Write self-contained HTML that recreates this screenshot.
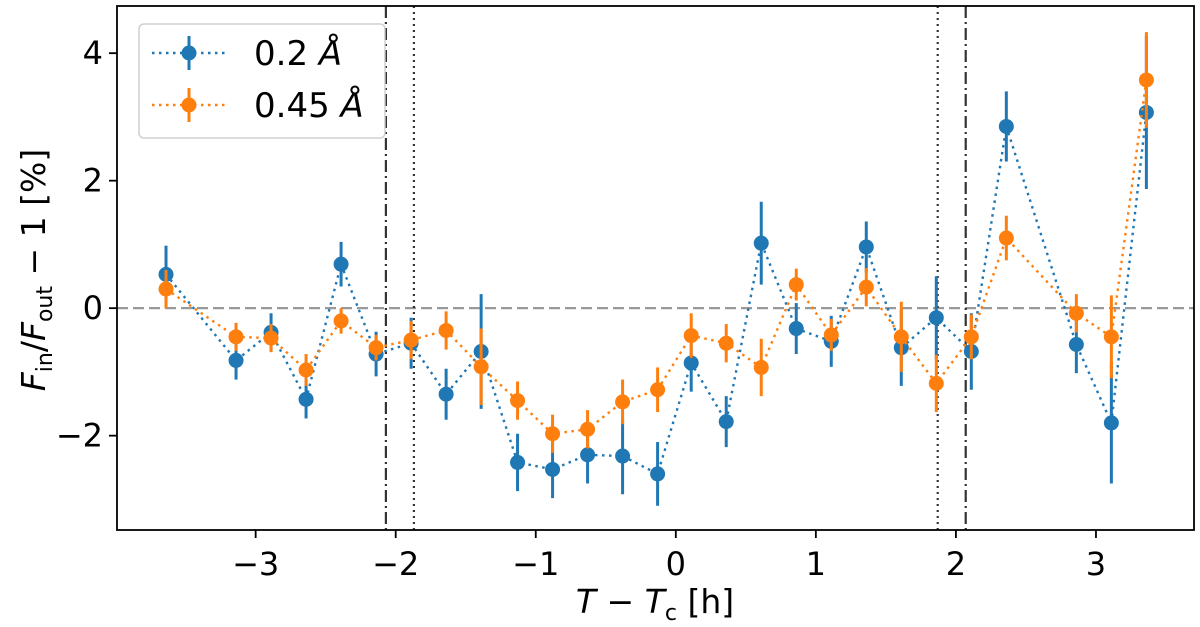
<!DOCTYPE html>
<html><head><meta charset="utf-8"><style>
body{margin:0;background:#fff;}
svg{display:block;font-family:"DejaVu Sans","Liberation Sans",sans-serif;}
</style></head><body>
<svg id="chart" width="1200" height="627" viewBox="0 0 1200 627" xmlns="http://www.w3.org/2000/svg">
<g id="plot"></g>
</svg>
<script>
const xTicks=[-3,-2,-1,0,1,2,3];
const yTicks=[-2,0,2,4];
const blueX=[-3.64,-3.14,-2.89,-2.64,-2.39,-2.14,-1.89,-1.64,-1.39,-1.13,-0.88,-0.63,-0.38,-0.13,0.11,0.36,0.61,0.86,1.11,1.36,1.61,1.86,2.11,2.36,2.86,3.11,3.36];
const blueY=[0.53,-0.82,-0.38,-1.43,0.69,-0.72,-0.55,-1.35,-0.68,-2.42,-2.53,-2.3,-2.32,-2.6,-0.86,-1.78,1.02,-0.32,-0.52,0.96,-0.62,-0.15,-0.68,2.85,-0.57,-1.8,3.07];
const blueErr=[0.45,0.3,0.3,0.3,0.35,0.35,0.4,0.4,0.9,0.45,0.45,0.45,0.6,0.5,0.45,0.4,0.65,0.4,0.4,0.4,0.6,0.65,0.6,0.55,0.45,0.95,1.2];
const orangeX=[-3.64,-3.14,-2.89,-2.64,-2.39,-2.14,-1.89,-1.64,-1.39,-1.13,-0.88,-0.63,-0.38,-0.13,0.11,0.36,0.61,0.86,1.11,1.36,1.61,1.86,2.11,2.36,2.86,3.11,3.36];
const orangeY=[0.3,-0.45,-0.47,-0.97,-0.2,-0.62,-0.5,-0.35,-0.92,-1.45,-1.97,-1.9,-1.47,-1.28,-0.43,-0.55,-0.93,0.37,-0.42,0.33,-0.45,-1.18,-0.45,1.1,-0.08,-0.45,3.58];
const orangeErr=[0.3,0.22,0.22,0.25,0.2,0.2,0.3,0.3,0.6,0.3,0.3,0.3,0.35,0.35,0.35,0.3,0.45,0.25,0.25,0.3,0.55,0.45,0.35,0.35,0.3,0.65,0.75];
const dashDotX=[-2.07,2.07];
const dottedX=[-1.87,1.87];

const L=117,R=1194,T=6,B=530;
const xmin=-3.99,xmax=3.70,ymin=-3.48,ymax=4.74;
const sx=v=>L+(v-xmin)/(xmax-xmin)*(R-L);
const sy=v=>B-(v-ymin)/(ymax-ymin)*(B-T);
const NS='http://www.w3.org/2000/svg';
const g=document.getElementById('plot');
function mk(tag,attrs,parent){const e=document.createElementNS(NS,tag);for(const k in attrs)e.setAttribute(k,attrs[k]);(parent||g).appendChild(e);return e;}

let e;
e=mk('line',{x1:L,x2:R,y1:sy(0),y2:sy(0),stroke:'#999',"stroke-width":2.2,"stroke-dasharray":"11,5"});


dashDotX.forEach(v=>{e=mk('line',{x1:sx(v),x2:sx(v),y1:T,y2:B,stroke:'#333',"stroke-width":2.2,"stroke-dasharray":"12,4,2,4"});

});
dottedX.forEach(v=>{e=mk('line',{x1:sx(v),x2:sx(v),y1:T,y2:B,stroke:'#333',"stroke-width":2.2,"stroke-dasharray":"2,4"});

});

function series(xs,ys,es,col,name){
  let d=xs.map((x,i)=>(i?'L':'M')+sx(x)+','+sy(ys[i])).join('');
  e=mk('path',{d:d,fill:'none',stroke:col,"stroke-width":2.4,"stroke-dasharray":"2.5,4.5"});
  
  
  xs.forEach((x,i)=>{
    e=mk('line',{x1:sx(x),x2:sx(x),y1:sy(ys[i]-es[i]),y2:sy(ys[i]+es[i]),stroke:col,"stroke-width":3});
    
    
    e=mk('circle',{cx:sx(x),cy:sy(ys[i]),r:7.5,fill:col});
    
    
  });
}
series(blueX,blueY,blueErr,'#1f77b4','series-0-2A');
series(orangeX,orangeY,orangeErr,'#ff7f0e','series-0-45A');

e=mk('rect',{x:L,y:T,width:R-L,height:B-T,fill:'none',stroke:'#000',"stroke-width":1.8});



xTicks.forEach(v=>{
  e=mk('line',{x1:sx(v),x2:sx(v),y1:B,y2:B+8,stroke:'#000',"stroke-width":1.8});
  
  
  e=mk('text',{x:sx(v),y:B+45,"text-anchor":"middle","font-size":32});
  e.textContent=(v<0?'\u2212'+(-v):''+v);
  
  
});
yTicks.forEach(v=>{
  e=mk('line',{x1:L-8,x2:L,y1:sy(v),y2:sy(v),stroke:'#000',"stroke-width":1.8});
  
  
  e=mk('text',{x:L-14,y:sy(v)+11,"text-anchor":"end","font-size":32});
  e.textContent=(v<0?'\u2212'+(-v):''+v);
  
  
});

e=mk('text',{x:655,y:613,"text-anchor":"middle","font-size":33});
e.innerHTML='<tspan font-style="italic">T</tspan> \u2212 <tspan font-style="italic">T</tspan><tspan font-size="22" dy="7">c</tspan><tspan dy="-7"> [h]</tspan>';



e=mk('text',{transform:'translate(45,270) rotate(-90)',"text-anchor":"middle","font-size":33});
e.innerHTML='<tspan font-style="italic">F</tspan><tspan font-size="22" dy="7">in</tspan><tspan dy="-7">/</tspan><tspan font-style="italic">F</tspan><tspan font-size="22" dy="7">out</tspan><tspan dy="-7"> \u2212 1 [%]</tspan>';



const lg=mk('g',{});


mk('rect',{x:139,y:24,width:246,height:114,rx:5,fill:'#fff',stroke:'#ccc',"stroke-width":1.5,opacity:0.9},lg);
[['#1f77b4','0.2',53,'legend-entry-0-2A'],['#ff7f0e','0.45',105,'legend-entry-0-45A']].forEach(([c,t,y,n])=>{
  const eg=mk('g',{},lg);
  
  
  mk('line',{x1:152,x2:226,y1:y,y2:y,stroke:c,"stroke-width":2.4,"stroke-dasharray":"2.5,4.5"},eg);
  mk('line',{x1:189,x2:189,y1:y-17,y2:y+17,stroke:c,"stroke-width":3},eg);
  mk('circle',{cx:189,cy:y,r:7.5,fill:c},eg);
  const tx=mk('text',{x:254,y:y+12,"font-size":34},eg);
  tx.innerHTML=t+' <tspan font-style="italic">\u00c5</tspan>';
});
</script>
</body></html>
